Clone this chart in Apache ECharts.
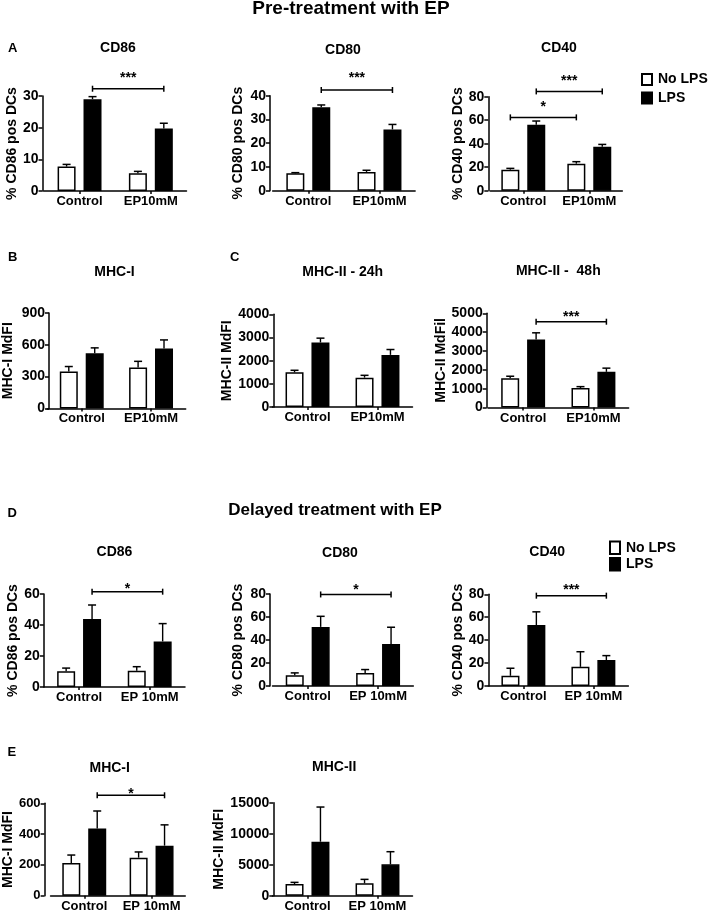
<!DOCTYPE html>
<html><head><meta charset="utf-8">
<script src="https://cdn.jsdelivr.net/npm/echarts@6/dist/echarts.min.js"></script>
<style>html,body{margin:0;padding:0;background:#fff}#c{width:708px;height:913px}</style>
</head><body><div id="c"></div>
<script>
// ---------------- DATA ----------------
const groupsPre = ['Control', 'EP10mM'];
const groupsDelayed = ['Control', 'EP 10mM'];
const treatments = ['No LPS', 'LPS'];

// Panel A (pre-treatment)
const aCD86NoLPS = [7.7, 5.6],   aCD86NoLPSSem = [0.7, 0.6];
const aCD86LPS   = [29.0, 19.7], aCD86LPSSem   = [0.8, 1.7];
const aCD86Ticks = [0, 10, 20, 30];
const aCD86Sig = [{from: [0, 'LPS'], to: [1, 'LPS'], level: 32.3, text: '***'}];

const aCD80NoLPS = [7.3, 7.9],   aCD80NoLPSSem = [0.3, 0.7];
const aCD80LPS   = [35.1, 25.8], aCD80LPSSem   = [1.0, 2.1];
const aCD80Ticks = [0, 10, 20, 30, 40];
const aCD80Sig = [{from: [0, 'LPS'], to: [1, 'LPS'], level: 42.4, text: '***'}];

const aCD40NoLPS = [17.9, 23.0], aCD40NoLPSSem = [1.1, 1.7];
const aCD40LPS   = [56.2, 37.4], aCD40LPSSem   = [3.1, 2.0];
const aCD40Ticks = [0, 20, 40, 60, 80];
const aCD40Sig = [
  {from: [0, 'LPS'], to: [1, 'LPS'], level: 84.5, text: '***'},
  {from: [0, 'No LPS'], to: [1, 'No LPS'], level: 62.4, text: '*'}
];

// Panel B
const bMHCINoLPS = [347, 386], bMHCINoLPSSem = [48, 58];
const bMHCILPS   = [521, 566], bMHCILPSSem   = [50, 80];
const bMHCITicks = [0, 300, 600, 900];

// Panel C
const cMHCII24NoLPS = [1500, 1270], cMHCII24NoLPSSem = [87, 100];
const cMHCII24LPS   = [2785, 2251], cMHCII24LPSSem   = [187, 231];
const cMHCII24Ticks = [0, 1000, 2000, 3000, 4000];

const cMHCII48NoLPS = [1554, 1036], cMHCII48NoLPSSem = [106, 71];
const cMHCII48LPS   = [3607, 1893], cMHCII48LPSSem   = [357, 196];
const cMHCII48Ticks = [0, 1000, 2000, 3000, 4000, 5000];
const cMHCII48Sig = [{from: [0, 'LPS'], to: [1, 'LPS'], level: 4554, text: '***'}];

// Panel D (delayed treatment)
const dCD86NoLPS = [10.1, 10.5], dCD86NoLPSSem = [2.1, 2.6];
const dCD86LPS   = [43.9, 29.4], dCD86LPSSem   = [9.0, 11.5];
const dCD86Ticks = [0, 20, 40, 60];
const dCD86Sig = [{from: [0, 'LPS'], to: [1, 'LPS'], level: 61.5, text: '*'}];

const dCD80NoLPS = [9.4, 11.4],  dCD80NoLPSSem = [2.0, 2.9];
const dCD80LPS   = [51.4, 36.6], dCD80LPSSem   = [9.2, 14.5];
const dCD80Ticks = [0, 20, 40, 60, 80];
const dCD80Sig = [{from: [0, 'LPS'], to: [1, 'LPS'], level: 79.6, text: '*'}];

const dCD40NoLPS = [8.9, 16.7],  dCD40NoLPSSem = [6.6, 13.2];
const dCD40LPS   = [53.2, 22.7], dCD40LPSSem   = [11.5, 3.8];
const dCD40Ticks = [0, 20, 40, 60, 80];
const dCD40Sig = [{from: [0, 'LPS'], to: [1, 'LPS'], level: 78.8, text: '***'}];

// Panel E
const eMHCINoLPS = [212, 247], eMHCINoLPSSem = [52, 37];
const eMHCILPS   = [436, 325], eMHCILPSSem   = [114, 135];
const eMHCITicks = [0, 200, 400, 600];
const eMHCISig = [{from: [0, 'LPS'], to: [1, 'LPS'], level: 652, text: '*'}];

const eMHCIINoLPS = [1882, 1989], eMHCIINoLPSSem = [268, 645];
const eMHCIILPS   = [8710, 5054], eMHCIILPSSem   = [5590, 2043];
const eMHCIITicks = [0, 5000, 10000, 15000];

// ---------------- LAYOUT / STYLE ----------------
const FONT = '"Liberation Sans", Arial, Helvetica, sans-serif';
const BAR_W = 18, GAP_RATIO = 0.44;
const BAR_OFF = (BAR_W + BAR_W * GAP_RATIO) / 2;

const charts = [
  {title: 'CD86', yName: '% CD86 pos DCs', cats: groupsPre, n: aCD86NoLPS, ns: aCD86NoLPSSem, l: aCD86LPS, ls: aCD86LPSSem, ticks: aCD86Ticks, sig: aCD86Sig,
   lay: {top: 96, zero: 191, left: 43.9, width: 142.6, yOff: 1.4, nameGap: 23, tick: 14, tx: 118, ty: 48.5, starGap: 14}},
  {title: 'CD80', yName: '% CD80 pos DCs', cats: groupsPre, n: aCD80NoLPS, ns: aCD80NoLPSSem, l: aCD80LPS, ls: aCD80LPSSem, ticks: aCD80Ticks, sig: aCD80Sig,
   lay: {top: 95.7, zero: 190.7, left: 272.7, width: 142.4, yOff: 2.7, nameGap: 25, tick: 14, tx: 343, ty: 50, starGap: 15}},
  {title: 'CD40', yName: '% CD40 pos DCs', cats: groupsPre, n: aCD40NoLPS, ns: aCD40NoLPSSem, l: aCD40LPS, ls: aCD40LPSSem, ticks: aCD40Ticks, sig: aCD40Sig,
   lay: {top: 96.7, zero: 190.7, left: 490.3, width: 132, yOff: 2, nameGap: 21, tick: 14, tx: 559, ty: 48.3, starGap: 13}},
  {title: 'MHC-I', yName: 'MHC-I MdFI', cats: groupsPre, n: bMHCINoLPS, ns: bMHCINoLPSSem, l: bMHCILPS, ls: bMHCILPSSem, ticks: bMHCITicks, sig: [],
   lay: {top: 313, zero: 408.4, left: 44.1, width: 141.6, yOff: -1.9, nameGap: 34, tick: 14, tx: 114.5, ty: 271.7, starGap: 7}},
  {title: 'MHC-II - 24h', yName: 'MHC-II MdFI', cats: groupsPre, n: cMHCII24NoLPS, ns: cMHCII24NoLPSSem, l: cMHCII24LPS, ls: cMHCII24LPSSem, ticks: cMHCII24Ticks, sig: [],
   lay: {top: 314.3, zero: 407.1, left: 272.5, width: 140, yOff: -0.8, nameGap: 36, tick: 14, tx: 342.7, ty: 272, starGap: 7}},
  {title: 'MHC-II -  48h', yName: 'MHC-II MdFil', cats: groupsPre, n: cMHCII48NoLPS, ns: cMHCII48NoLPSSem, l: cMHCII48LPS, ls: cMHCII48LPSSem, ticks: cMHCII48Ticks, sig: cMHCII48Sig,
   lay: {top: 313.3, zero: 407.5, left: 488, width: 140.6, yOff: 1.3, nameGap: 39, tick: 14, tx: 558.3, ty: 270.7, starGap: 7.4}},
  {title: 'CD86', yName: '% CD86 pos DCs', cats: groupsDelayed, n: dCD86NoLPS, ns: dCD86NoLPSSem, l: dCD86LPS, ls: dCD86LPSSem, ticks: dCD86Ticks, sig: dCD86Sig,
   lay: {top: 594, zero: 687, left: 43.8, width: 141.2, yOff: 0, nameGap: 22, tick: 14, tx: 114.5, ty: 551.7, starGap: 6}},
  {title: 'CD80', yName: '% CD80 pos DCs', cats: groupsDelayed, n: dCD80NoLPS, ns: dCD80NoLPSSem, l: dCD80LPS, ls: dCD80LPSSem, ticks: dCD80Ticks, sig: dCD80Sig,
   lay: {top: 594, zero: 686, left: 272.5, width: 140.8, yOff: 2.5, nameGap: 25, tick: 14, tx: 340, ty: 553.3, starGap: 7.4}},
  {title: 'CD40', yName: '% CD40 pos DCs', cats: groupsDelayed, n: dCD40NoLPS, ns: dCD40NoLPSSem, l: dCD40LPS, ls: dCD40LPSSem, ticks: dCD40Ticks, sig: dCD40Sig,
   lay: {top: 594.3, zero: 686, left: 488.4, width: 140, yOff: 0, nameGap: 22, tick: 14, tx: 547.2, ty: 552.3, starGap: 8.4}},
  {title: 'MHC-I', yName: 'MHC-I MdFI', cats: groupsDelayed, n: eMHCINoLPS, ns: eMHCINoLPSSem, l: eMHCILPS, ls: eMHCILPSSem, ticks: eMHCITicks, sig: eMHCISig,
   lay: {top: 803.3, zero: 895.7, left: 44.25, width: 141, yOff: 6, nameGap: 26, tick: 13, tx: 109.7, ty: 768.3, starGap: 4}},
  {title: 'MHC-II', yName: 'MHC-II MdFI', cats: groupsDelayed, n: eMHCIINoLPS, ns: eMHCIINoLPSSem, l: eMHCIILPS, ls: eMHCIILPSSem, ticks: eMHCIITicks, sig: [],
   lay: {top: 802.7, zero: 895.7, left: 272.5, width: 140, yOff: -0.8, nameGap: 44, tick: 14, tx: 334.2, ty: 766.7, starGap: 7}}
];

const headings = [
  {text: 'Pre-treatment with EP', x: 351, y: 9, size: 19, align: 'center'},
  {text: 'Delayed treatment with EP', x: 335, y: 510, size: 17, align: 'center'},
  {text: 'A', x: 8, y: 48.7, size: 13, align: 'left'},
  {text: 'B', x: 8, y: 257, size: 13, align: 'left'},
  {text: 'C', x: 230, y: 257, size: 13, align: 'left'},
  {text: 'D', x: 7.5, y: 513, size: 13, align: 'left'},
  {text: 'E', x: 7.5, y: 752, size: 13, align: 'left'}
];

// ---------------- BUILD ----------------
const grid = [], xAxis = [], yAxis = [], series = [], graphic = [];
const black = '#000';
const sideOf = name => name === 'LPS' ? 1 : -1;

function textEl(t, x, y, size, align) {
  return {type: 'text', x: x, y: y, silent: true,
    style: {text: t, font: 'bold ' + size + 'px ' + FONT, fill: black,
      textAlign: align, textVerticalAlign: 'middle', align: align, verticalAlign: 'middle'}};
}

headings.forEach(h => graphic.push(textEl(h.text, h.x, h.y, h.size, h.align)));

charts.forEach((c, i) => {
  const L = c.lay;
  grid.push({left: L.left, top: L.top, width: L.width, height: L.zero - L.top, containLabel: false});
  xAxis.push({type: 'category', gridIndex: i, data: c.cats,
    axisLine: {show: true, lineStyle: {color: black, width: 1.5}},
    axisTick: {show: true, alignWithLabel: true, length: 3, lineStyle: {color: black, width: 1.5}},
    axisLabel: {interval: 0, margin: 4, color: black, fontSize: 13, fontWeight: 'bold', fontFamily: FONT}});
  const t = c.ticks;
  yAxis.push({type: 'value', gridIndex: i, min: t[0], max: t[t.length - 1], interval: t[1] - t[0],
    offset: L.yOff, name: c.yName, nameLocation: 'middle', nameGap: L.nameGap,
    nameTextStyle: {color: black, fontSize: 14, fontWeight: 'bold', fontFamily: FONT},
    axisLine: {show: true, lineStyle: {color: black, width: 1.5}},
    axisTick: {show: true, length: 4, lineStyle: {color: black, width: 1.5}},
    axisLabel: {margin: 4, color: black, fontSize: L.tick, fontWeight: 'bold', fontFamily: FONT,
      formatter: v => String(v)},
    splitLine: {show: false}});

  series.push({name: 'No LPS', type: 'bar', xAxisIndex: i, yAxisIndex: i, data: c.n,
    barWidth: BAR_W, barGap: (GAP_RATIO * 100) + '%',
    itemStyle: {color: '#fff', borderColor: black, borderWidth: 1.5}, silent: true});
  series.push({name: 'LPS', type: 'bar', xAxisIndex: i, yAxisIndex: i, data: c.l,
    barWidth: BAR_W, barGap: (GAP_RATIO * 100) + '%',
    itemStyle: {color: black, borderColor: black, borderWidth: 1.5}, silent: true});

  // error bars (mean -> mean + SEM, upward only)
  const errData = [];
  c.n.forEach((v, k) => errData.push([k, v, v + c.ns[k], -1]));
  c.l.forEach((v, k) => errData.push([k, v, v + c.ls[k], 1]));
  series.push({type: 'custom', name: 'err' + i, xAxisIndex: i, yAxisIndex: i, data: errData, silent: true, z: 5,
    encode: {x: 0, y: [1, 2]},
    renderItem: function (params, api) {
      const cat = api.value(0), lo = api.value(1), hi = api.value(2), side = api.value(3);
      const p0 = api.coord([cat, lo]), p1 = api.coord([cat, hi]);
      const x = p0[0] + side * BAR_OFF;
      return {type: 'group', children: [
        {type: 'line', shape: {x1: x, y1: p0[1], x2: x, y2: p1[1]}, style: {stroke: black, lineWidth: 1.4}},
        {type: 'line', shape: {x1: x - 4, y1: p1[1], x2: x + 4, y2: p1[1]}, style: {stroke: black, lineWidth: 1.5}}
      ]};
    }});

  // significance brackets
  if (c.sig.length) {
    const sigData = c.sig.map(s => [s.from[0], sideOf(s.from[1]), s.to[0], sideOf(s.to[1]), s.level]);
    const texts = c.sig.map(s => s.text);
    const gap = L.starGap;
    series.push({type: 'custom', name: 'sig' + i, xAxisIndex: i, yAxisIndex: i, data: sigData, silent: true, z: 6,
      encode: {x: [0, 2], y: 4},
      renderItem: function (params, api) {
        const pa = api.coord([api.value(0), api.value(4)]);
        const pb = api.coord([api.value(2), api.value(4)]);
        const xa = pa[0] + api.value(1) * BAR_OFF, xb = pb[0] + api.value(3) * BAR_OFF, y = pa[1];
        return {type: 'group', children: [
          {type: 'line', shape: {x1: xa, y1: y, x2: xb, y2: y}, style: {stroke: black, lineWidth: 1.5}},
          {type: 'line', shape: {x1: xa, y1: y - 3, x2: xa, y2: y + 3}, style: {stroke: black, lineWidth: 1.5}},
          {type: 'line', shape: {x1: xb, y1: y - 3, x2: xb, y2: y + 3}, style: {stroke: black, lineWidth: 1.5}},
          {type: 'text', x: (xa + xb) / 2, y: y - gap + 3.2,
            style: {text: texts[params.dataIndex], font: 'bold 14px ' + FONT, fill: black,
              textAlign: 'center', textVerticalAlign: 'middle', align: 'center', verticalAlign: 'middle'}}
        ]};
      }});
  }
  graphic.push(textEl(c.title, L.tx, L.ty, 14, 'center'));
});

const legendBase = {data: treatments, orient: 'vertical', icon: 'rect', itemWidth: 10, itemHeight: 11,
  padding: 0, selectedMode: false,
  textStyle: {color: black, fontSize: 14, fontWeight: 'bold', fontFamily: FONT, lineHeight: 14, padding: [0, 0, 0, 1]}};

const option = {
  animation: false,
  backgroundColor: '#fff',
  grid, xAxis, yAxis, series, graphic,
  legend: [
    Object.assign({}, legendBase, {left: 641, top: 72.5, itemGap: 4.5}),
    Object.assign({}, legendBase, {left: 609, top: 540.5, itemGap: 2, itemHeight: 12.5})
  ]
};

const chart = echarts.init(document.getElementById('c'), null, {renderer: 'canvas'});
chart.setOption(option);
</script>
</body></html>
